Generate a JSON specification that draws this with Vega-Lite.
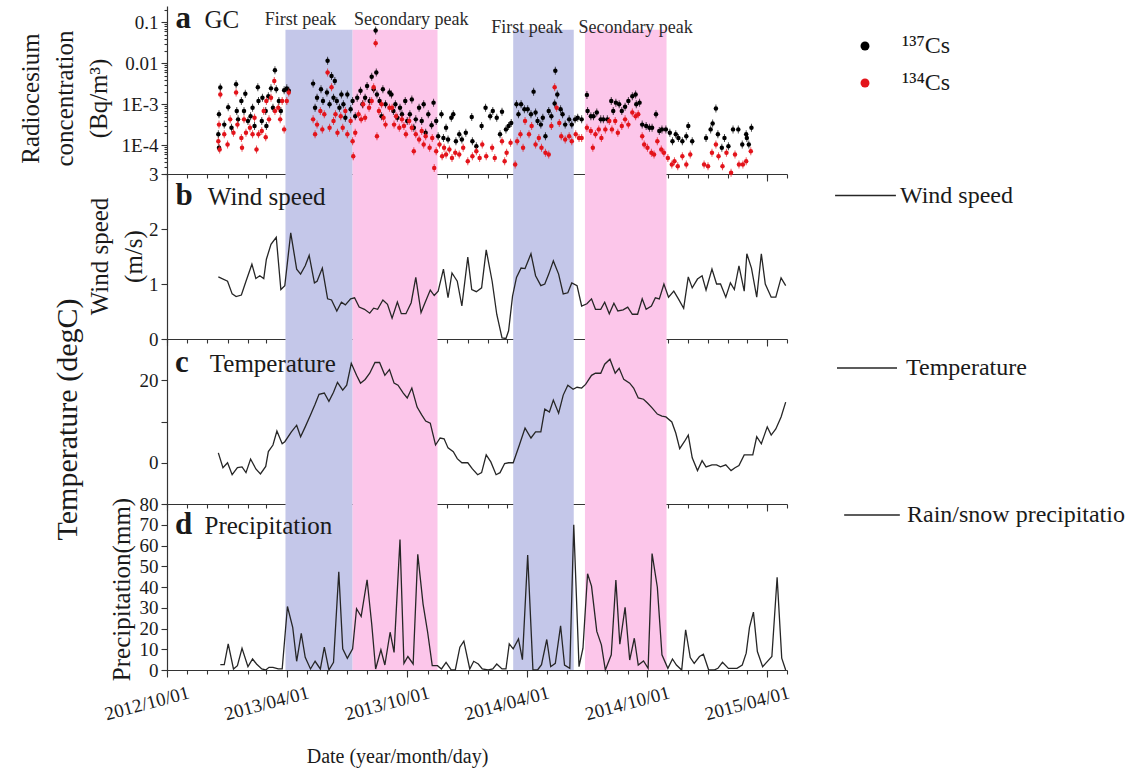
{
  "$schema": "https://vega.github.io/schema/vega-lite/v6.json",
  "background": "white",
  "padding": {"left": 18, "top": 3, "right": 5, "bottom": 5},
  "config": {
    "view": {"stroke": null},
    "font": "Liberation Serif",
    "axis": {"labelFont": "Liberation Serif", "titleFont": "Liberation Serif", "labelFontSize": 19, "titleFontSize": 25, "titleFontWeight": "normal", "labelColor": "#1a1a1a", "titleColor": "#1a1a1a", "domainColor": "#333333", "tickColor": "#333333", "domainWidth": 1.2, "tickWidth": 1.1, "grid": false, "labelPadding": 3, "zindex": 1},
    "legend": {"labelFont": "Liberation Serif", "labelFontSize": 24, "labelColor": "#1a1a1a", "labelLimit": 400, "padding": 0, "symbolOpacity": 1},
    "text": {"font": "Liberation Serif", "color": "#1a1a1a"}
  },
  "datasets": {
    "periods": [
      {"start": "2013-03-30", "end": "2013-07-10", "phase": "First peak"},
      {"start": "2013-07-10", "end": "2013-11-16", "phase": "Secondary peak"},
      {"start": "2014-03-11", "end": "2014-06-11", "phase": "First peak"},
      {"start": "2014-06-28", "end": "2014-10-30", "phase": "Secondary peak"}
    ],
    "cs137": [
      {"date":"2012-12-21","conc":0.00257},{"date":"2012-12-19","conc":0.000575},{"date":"2012-12-18","conc":0.000186},{"date":"2012-12-19","conc":0.000087},{"date":"2012-12-27","conc":0.00032},{"date":"2013-01-02","conc":0.00085},{"date":"2013-01-07","conc":0.00027},{"date":"2013-01-14","conc":0.0031},{"date":"2013-01-15","conc":0.00069},{"date":"2013-01-17","conc":0.00043},{"date":"2013-01-22","conc":0.0012},{"date":"2013-01-26","conc":0.00069},{"date":"2013-01-28","conc":0.00182},{"date":"2013-02-01","conc":0.00039},{"date":"2013-02-05","conc":0.00051},{"date":"2013-02-08","conc":0.00083},{"date":"2013-02-11","conc":0.000295},{"date":"2013-02-16","conc":0.0026},{"date":"2013-02-17","conc":0.0012},{"date":"2013-02-22","conc":0.00039},{"date":"2013-02-23","conc":0.00145},{"date":"2013-02-28","conc":0.00069},{"date":"2013-03-01","conc":0.000295},{"date":"2013-03-04","conc":0.00158},{"date":"2013-03-08","conc":0.00245},{"date":"2013-03-11","conc":0.00083},{"date":"2013-03-14","conc":0.0068},{"date":"2013-03-16","conc":0.00234},{"date":"2013-03-20","conc":0.0012},{"date":"2013-03-23","conc":0.00069},{"date":"2013-03-28","conc":0.0022},{"date":"2013-04-01","conc":0.00245},{"date":"2013-04-04","conc":0.00214},
      {"date":"2013-05-11","conc":0.0032},{"date":"2013-05-14","conc":0.00083},{"date":"2013-05-17","conc":0.00145},{"date":"2013-05-23","conc":0.00234},{"date":"2013-05-26","conc":0.0012},{"date":"2013-06-02","conc":0.0115},{"date":"2013-06-01","conc":0.00195},{"date":"2013-06-05","conc":0.001},{"date":"2013-06-08","conc":0.0049},{"date":"2013-06-11","conc":0.00145},{"date":"2013-06-13","conc":0.0037},{"date":"2013-06-16","conc":0.0012},{"date":"2013-06-20","conc":0.00083},{"date":"2013-06-23","conc":0.00174},{"date":"2013-06-26","conc":0.001},{"date":"2013-06-29","conc":0.00047},{"date":"2013-07-02","conc":0.00174},{"date":"2013-07-07","conc":0.00076},{"date":"2013-07-10","conc":0.0012},{"date":"2013-07-14","conc":0.00051},{"date":"2013-07-17","conc":0.00145},{"date":"2013-07-22","conc":0.00214},{"date":"2013-07-25","conc":0.001},{"date":"2013-07-29","conc":0.00145},{"date":"2013-08-01","conc":0.0028},{"date":"2013-08-05","conc":0.0012},{"date":"2013-08-08","conc":0.0047},{"date":"2013-08-11","conc":0.00234},{"date":"2013-08-14","conc":0.063},{"date":"2013-08-15","conc":0.006},{"date":"2013-08-16","conc":0.00174},{"date":"2013-08-20","conc":0.0012},{"date":"2013-08-23","conc":0.00051},{"date":"2013-08-25","conc":0.00234},{"date":"2013-08-29","conc":0.001},
      {"date":"2013-09-04","conc":0.00195},{"date":"2013-09-07","conc":0.00174},{"date":"2013-09-10","conc":0.00069},{"date":"2013-09-13","conc":0.001},{"date":"2013-09-16","conc":0.00047},{"date":"2013-09-20","conc":0.00083},{"date":"2013-09-23","conc":0.000575},{"date":"2013-09-28","conc":0.0012},{"date":"2013-10-01","conc":0.00039},{"date":"2013-10-05","conc":0.000575},{"date":"2013-10-08","conc":0.00132},{"date":"2013-10-11","conc":0.00027},{"date":"2013-10-14","conc":0.00043},{"date":"2013-10-19","conc":0.00083},{"date":"2013-10-23","conc":0.00039},{"date":"2013-10-26","conc":0.001},{"date":"2013-10-29","conc":0.000204},{"date":"2013-11-02","conc":0.000575},{"date":"2013-11-07","conc":0.00031},{"date":"2013-11-10","conc":0.0011},{"date":"2013-11-14","conc":0.00039},{"date":"2013-11-17","conc":0.000166},{"date":"2013-11-22","conc":0.000575},{"date":"2013-11-25","conc":0.000151},{"date":"2013-11-29","conc":0.00027},{"date":"2013-12-02","conc":0.000138},{"date":"2013-12-07","conc":0.00047},{"date":"2013-12-10","conc":0.000575},{"date":"2013-12-14","conc":0.000126},{"date":"2013-12-19","conc":0.000186},{"date":"2013-12-23","conc":0.000138},{"date":"2013-12-29","conc":0.000204},
      {"date":"2014-01-07","conc":0.00049},{"date":"2014-01-08","conc":0.000126},{"date":"2014-01-14","conc":0.000095},{"date":"2014-01-22","conc":0.000295},{"date":"2014-01-28","conc":0.00083},{"date":"2014-02-04","conc":0.00051},{"date":"2014-02-08","conc":0.00069},{"date":"2014-02-14","conc":0.00047},{"date":"2014-02-19","conc":0.000186},{"date":"2014-02-22","conc":0.00066},{"date":"2014-02-28","conc":0.000245},{"date":"2014-03-04","conc":0.000295},{"date":"2014-03-08","conc":0.00035},{"date":"2014-03-16","conc":0.001},{"date":"2014-03-19","conc":0.000575},{"date":"2014-03-23","conc":0.001},{"date":"2014-03-28","conc":0.00076},{"date":"2014-04-02","conc":0.00076},{"date":"2014-04-07","conc":0.000575},{"date":"2014-04-11","conc":0.00204},{"date":"2014-04-14","conc":0.00063},{"date":"2014-04-17","conc":0.00039},{"date":"2014-04-22","conc":0.00032},{"date":"2014-04-25","conc":0.00047},{"date":"2014-04-29","conc":0.000166},{"date":"2014-05-04","conc":0.00069},{"date":"2014-05-08","conc":0.00051},{"date":"2014-05-13","conc":0.00105},{"date":"2014-05-14","conc":0.0066},{"date":"2014-05-17","conc":0.00174},{"date":"2014-05-22","conc":0.00076},{"date":"2014-05-25","conc":0.000575},{"date":"2014-05-29","conc":0.00032},{"date":"2014-06-04","conc":0.00043},{"date":"2014-06-08","conc":0.00032},{"date":"2014-06-13","conc":0.00043},{"date":"2014-06-17","conc":0.00047},{"date":"2014-06-23","conc":0.00043},
      {"date":"2014-07-01","conc":0.0017},{"date":"2014-07-02","conc":0.00069},{"date":"2014-07-07","conc":0.00051},{"date":"2014-07-11","conc":0.00051},{"date":"2014-07-16","conc":0.00063},{"date":"2014-07-22","conc":0.00043},{"date":"2014-07-26","conc":0.00043},{"date":"2014-08-01","conc":0.00043},{"date":"2014-08-07","conc":0.0012},{"date":"2014-08-10","conc":0.00069},{"date":"2014-08-14","conc":0.0011},{"date":"2014-08-19","conc":0.001},{"date":"2014-08-23","conc":0.00069},{"date":"2014-08-28","conc":0.00087},{"date":"2014-09-02","conc":0.0012},{"date":"2014-09-08","conc":0.00158},{"date":"2014-09-13","conc":0.00174},{"date":"2014-09-14","conc":0.001},{"date":"2014-09-19","conc":0.0011},{"date":"2014-09-23","conc":0.00032},{"date":"2014-09-29","conc":0.000295},{"date":"2014-10-04","conc":0.00027},{"date":"2014-10-08","conc":0.00027},{"date":"2014-10-14","conc":0.000575},{"date":"2014-10-19","conc":0.000224},{"date":"2014-10-23","conc":0.000245},{"date":"2014-10-29","conc":0.000245},{"date":"2014-11-04","conc":0.000204},{"date":"2014-11-08","conc":0.000126},{"date":"2014-11-13","conc":0.000186},{"date":"2014-11-17","conc":0.000151},{"date":"2014-11-23","conc":0.000126},{"date":"2014-11-29","conc":0.000166},{"date":"2014-12-02","conc":0.000295},{"date":"2014-12-08","conc":0.000126},{"date":"2014-12-29","conc":0.000151},
      {"date":"2015-01-05","conc":0.000245},{"date":"2015-01-08","conc":0.00034},{"date":"2015-01-13","conc":0.00079},{"date":"2015-01-16","conc":0.000186},{"date":"2015-01-22","conc":0.000087},{"date":"2015-01-26","conc":0.000151},{"date":"2015-02-01","conc":0.000095},{"date":"2015-02-08","conc":0.000245},{"date":"2015-02-16","conc":0.000245},{"date":"2015-02-22","conc":0.000105},{"date":"2015-02-28","conc":0.000186},{"date":"2015-03-01","conc":0.000151},{"date":"2015-03-04","conc":0.000105},{"date":"2015-03-08","conc":0.00027}
    ],
    "cs134": [
      {"date":"2012-12-21","conc":0.00174},{"date":"2012-12-19","conc":0.00032},{"date":"2012-12-18","conc":0.000126},{"date":"2012-12-20","conc":0.000079},{"date":"2012-12-27","conc":0.000186},{"date":"2013-01-01","conc":0.000105},{"date":"2013-01-05","conc":0.00043},{"date":"2013-01-10","conc":0.000204},{"date":"2013-01-14","conc":0.00195},{"date":"2013-01-16","conc":0.00032},{"date":"2013-01-22","conc":0.000151},{"date":"2013-01-23","conc":0.000087},{"date":"2013-01-26","conc":0.00043},{"date":"2013-01-29","conc":0.000204},{"date":"2013-02-04","conc":0.00027},{"date":"2013-02-08","conc":0.000186},{"date":"2013-02-11","conc":0.00047},{"date":"2013-02-14","conc":0.000079},{"date":"2013-02-17","conc":0.000186},{"date":"2013-02-22","conc":0.000224},{"date":"2013-02-25","conc":0.00069},{"date":"2013-02-28","conc":0.000158},{"date":"2013-03-01","conc":0.0012},{"date":"2013-03-05","conc":0.00043},{"date":"2013-03-08","conc":0.00145},{"date":"2013-03-13","conc":0.0037},{"date":"2013-03-14","conc":0.00069},{"date":"2013-03-19","conc":0.00083},{"date":"2013-03-22","conc":0.00043},{"date":"2013-03-25","conc":0.0012},{"date":"2013-03-28","conc":0.000245},{"date":"2013-04-01","conc":0.0012},{"date":"2013-04-04","conc":0.00195},
      {"date":"2013-05-11","conc":0.00043},{"date":"2013-05-14","conc":0.000186},{"date":"2013-05-17","conc":0.00032},{"date":"2013-05-22","conc":0.00069},{"date":"2013-05-25","conc":0.000245},{"date":"2013-05-28","conc":0.000575},{"date":"2013-06-02","conc":0.006},{"date":"2013-06-05","conc":0.00027},{"date":"2013-06-08","conc":0.0026},{"date":"2013-06-11","conc":0.00039},{"date":"2013-06-14","conc":0.000575},{"date":"2013-06-17","conc":0.000204},{"date":"2013-06-22","conc":0.00051},{"date":"2013-06-25","conc":0.00027},{"date":"2013-06-29","conc":0.00069},{"date":"2013-07-02","conc":0.000186},{"date":"2013-07-07","conc":0.00039},{"date":"2013-07-10","conc":0.000126},{"date":"2013-07-11","conc":0.000054},{"date":"2013-07-14","conc":0.000204},{"date":"2013-07-19","conc":0.000575},{"date":"2013-07-23","conc":0.00043},{"date":"2013-07-26","conc":0.001},{"date":"2013-07-29","conc":0.00047},{"date":"2013-08-04","conc":0.00083},{"date":"2013-08-08","conc":0.0012},{"date":"2013-08-11","conc":0.0026},{"date":"2013-08-14","conc":0.031},{"date":"2013-08-16","conc":0.000166},{"date":"2013-08-19","conc":0.00069},{"date":"2013-08-23","conc":0.001},{"date":"2013-08-26","conc":0.00047},{"date":"2013-08-29","conc":0.00032},
      {"date":"2013-09-04","conc":0.00083},{"date":"2013-09-08","conc":0.00083},{"date":"2013-09-11","conc":0.00032},{"date":"2013-09-14","conc":0.00051},{"date":"2013-09-19","conc":0.00027},{"date":"2013-09-23","conc":0.00043},{"date":"2013-09-26","conc":0.000295},{"date":"2013-09-29","conc":0.000186},{"date":"2013-10-04","conc":0.00039},{"date":"2013-10-08","conc":0.00027},{"date":"2013-10-11","conc":0.000072},{"date":"2013-10-14","conc":0.000186},{"date":"2013-10-19","conc":0.000138},{"date":"2013-10-23","conc":0.000224},{"date":"2013-10-26","conc":0.000105},{"date":"2013-10-29","conc":0.000166},{"date":"2013-11-04","conc":0.000087},{"date":"2013-11-08","conc":0.000151},{"date":"2013-11-11","conc":0.000028},{"date":"2013-11-14","conc":0.000072},{"date":"2013-11-19","conc":0.000105},{"date":"2013-11-23","conc":0.000054},{"date":"2013-11-26","conc":0.000087},{"date":"2013-11-29","conc":0.00006},{"date":"2013-12-04","conc":0.000079},{"date":"2013-12-08","conc":0.000049},{"date":"2013-12-13","conc":0.000066},{"date":"2013-12-19","conc":0.00006},{"date":"2013-12-25","conc":0.000087},
      {"date":"2014-01-01","conc":0.000041},{"date":"2014-01-08","conc":0.000054},{"date":"2014-01-14","conc":0.000072},{"date":"2014-01-19","conc":0.000049},{"date":"2014-01-23","conc":0.000105},{"date":"2014-01-29","conc":0.000054},{"date":"2014-02-07","conc":0.000087},{"date":"2014-02-11","conc":0.000049},{"date":"2014-02-22","conc":0.000126},{"date":"2014-02-26","conc":0.000041},{"date":"2014-03-01","conc":0.000066},{"date":"2014-03-07","conc":0.000115},{"date":"2014-03-14","conc":0.000034},{"date":"2014-03-17","conc":0.000126},{"date":"2014-03-22","conc":0.000186},{"date":"2014-03-26","conc":0.000087},{"date":"2014-03-29","conc":0.00039},{"date":"2014-04-04","conc":0.000186},{"date":"2014-04-08","conc":0.000295},{"date":"2014-04-14","conc":0.000105},{"date":"2014-04-19","conc":0.000151},{"date":"2014-04-23","conc":0.000087},{"date":"2014-04-29","conc":0.000066},{"date":"2014-05-04","conc":0.00006},{"date":"2014-05-08","conc":0.000295},{"date":"2014-05-13","conc":0.0026},{"date":"2014-05-16","conc":0.00083},{"date":"2014-05-20","conc":0.00035},{"date":"2014-05-23","conc":0.000166},{"date":"2014-05-29","conc":0.000138},{"date":"2014-06-04","conc":0.000166},{"date":"2014-06-08","conc":0.000126},{"date":"2014-06-14","conc":0.000186},{"date":"2014-06-19","conc":0.000151},{"date":"2014-06-23","conc":0.000151},
      {"date":"2014-07-01","conc":0.00027},{"date":"2014-07-07","conc":0.000224},{"date":"2014-07-10","conc":0.000087},{"date":"2014-07-14","conc":0.000186},{"date":"2014-07-19","conc":0.000245},{"date":"2014-07-23","conc":0.000151},{"date":"2014-07-29","conc":0.000245},{"date":"2014-08-04","conc":0.00039},{"date":"2014-08-08","conc":0.000245},{"date":"2014-08-13","conc":0.00039},{"date":"2014-08-17","conc":0.000204},{"date":"2014-08-23","conc":0.000295},{"date":"2014-08-28","conc":0.00043},{"date":"2014-09-02","conc":0.00032},{"date":"2014-09-08","conc":0.00063},{"date":"2014-09-13","conc":0.00051},{"date":"2014-09-17","conc":0.000575},{"date":"2014-09-23","conc":0.000166},{"date":"2014-09-26","conc":0.000105},{"date":"2014-10-01","conc":0.000087},{"date":"2014-10-07","conc":0.000066},{"date":"2014-10-11","conc":0.00006},{"date":"2014-10-16","conc":0.000126},{"date":"2014-10-22","conc":0.000079},{"date":"2014-10-26","conc":0.000066},{"date":"2014-11-01","conc":0.000049},{"date":"2014-11-07","conc":0.000034},{"date":"2014-11-11","conc":0.000041},{"date":"2014-11-16","conc":0.000031},{"date":"2014-11-23","conc":0.000054},{"date":"2014-11-29","conc":0.000034},{"date":"2014-12-05","conc":0.00006},{"date":"2014-12-26","conc":0.000034},
      {"date":"2015-01-01","conc":0.000031},{"date":"2015-01-07","conc":0.000066},{"date":"2015-01-13","conc":0.000105},{"date":"2015-01-17","conc":0.000054},{"date":"2015-01-23","conc":0.000031},{"date":"2015-01-29","conc":0.000066},{"date":"2015-02-05","conc":0.0000214},{"date":"2015-02-11","conc":0.00006},{"date":"2015-02-17","conc":0.000034},{"date":"2015-02-23","conc":0.000034},{"date":"2015-02-28","conc":0.000041},{"date":"2015-03-07","conc":0.000072}
    ],
    "wind": [
      {"date":"2012-12-18","speed":1.13},{"date":"2013-01-01","speed":1.05},{"date":"2013-01-08","speed":0.82},{"date":"2013-01-14","speed":0.77},{"date":"2013-01-22","speed":0.8},{"date":"2013-01-29","speed":1.05},{"date":"2013-02-07","speed":1.36},{"date":"2013-02-13","speed":1.1},{"date":"2013-02-19","speed":1.15},{"date":"2013-02-25","speed":1.1},{"date":"2013-03-01","speed":1.45},{"date":"2013-03-08","speed":1.72},{"date":"2013-03-16","speed":1.85},{"date":"2013-03-23","speed":0.9},{"date":"2013-03-29","speed":0.97},{"date":"2013-04-07","speed":1.93},{"date":"2013-04-16","speed":1.27},{"date":"2013-04-22","speed":1.18},{"date":"2013-04-29","speed":1.33},{"date":"2013-05-05","speed":1.52},{"date":"2013-05-13","speed":1.02},{"date":"2013-05-17","speed":1.05},{"date":"2013-05-25","speed":1.29},{"date":"2013-06-02","speed":0.73},{"date":"2013-06-08","speed":0.71},{"date":"2013-06-16","speed":0.51},{"date":"2013-06-23","speed":0.67},{"date":"2013-06-29","speed":0.62},{"date":"2013-07-07","speed":0.73},{"date":"2013-07-13","speed":0.75},{"date":"2013-07-20","speed":0.58},{"date":"2013-07-28","speed":0.54},{"date":"2013-08-05","speed":0.47},{"date":"2013-08-11","speed":0.56},{"date":"2013-08-17","speed":0.54},{"date":"2013-08-25","speed":0.71},{"date":"2013-09-01","speed":0.63},{"date":"2013-09-08","speed":0.38},{"date":"2013-09-16","speed":0.67},{"date":"2013-09-22","speed":0.46},{"date":"2013-09-29","speed":0.46},{"date":"2013-10-07","speed":0.66},{"date":"2013-10-14","speed":1.12},{"date":"2013-10-22","speed":0.48},{"date":"2013-10-28","speed":0.66},{"date":"2013-11-05","speed":0.89},{"date":"2013-11-11","speed":0.79},{"date":"2013-11-17","speed":0.87},{"date":"2013-11-25","speed":1.27},{"date":"2013-12-02","speed":0.75},{"date":"2013-12-08","speed":1.2},{"date":"2013-12-16","speed":1.05},{"date":"2013-12-23","speed":0.6},
      {"date":"2014-01-01","speed":1.49},{"date":"2014-01-07","speed":0.9},{"date":"2014-01-14","speed":0.86},{"date":"2014-01-22","speed":0.93},{"date":"2014-01-29","speed":1.62},{"date":"2014-02-07","speed":1.05},{"date":"2014-02-14","speed":0.45},{"date":"2014-02-22","speed":0.02},{"date":"2014-02-28","speed":0.01},{"date":"2014-03-04","speed":0.15},{"date":"2014-03-10","speed":0.78},{"date":"2014-03-16","speed":1.12},{"date":"2014-03-23","speed":1.29},{"date":"2014-03-29","speed":1.28},{"date":"2014-04-07","speed":1.55},{"date":"2014-04-14","speed":1.15},{"date":"2014-04-22","speed":0.97},{"date":"2014-04-28","speed":1.0},{"date":"2014-05-04","speed":1.18},{"date":"2014-05-11","speed":1.42},{"date":"2014-05-19","speed":1.18},{"date":"2014-05-26","speed":0.82},{"date":"2014-06-02","speed":0.84},{"date":"2014-06-08","speed":1.02},{"date":"2014-06-16","speed":0.97},{"date":"2014-06-23","speed":0.6},{"date":"2014-07-01","speed":0.64},{"date":"2014-07-08","speed":0.73},{"date":"2014-07-14","speed":0.54},{"date":"2014-07-22","speed":0.54},{"date":"2014-07-28","speed":0.67},{"date":"2014-08-04","speed":0.46},{"date":"2014-08-11","speed":0.65},{"date":"2014-08-17","speed":0.51},{"date":"2014-08-25","speed":0.53},{"date":"2014-09-01","speed":0.58},{"date":"2014-09-08","speed":0.45},{"date":"2014-09-16","speed":0.45},{"date":"2014-09-23","speed":0.73},{"date":"2014-09-29","speed":0.54},{"date":"2014-10-07","speed":0.6},{"date":"2014-10-13","speed":0.75},{"date":"2014-10-19","speed":0.73},{"date":"2014-10-26","speed":1.0},{"date":"2014-11-02","speed":0.76},{"date":"2014-11-10","speed":0.87},{"date":"2014-11-17","speed":0.73},{"date":"2014-11-25","speed":0.56},{"date":"2014-12-02","speed":1.13},{"date":"2014-12-08","speed":0.93},{"date":"2014-12-16","speed":1.09},{"date":"2014-12-23","speed":1.15},{"date":"2014-12-29","speed":0.89},
      {"date":"2015-01-07","speed":1.27},{"date":"2015-01-14","speed":1.0},{"date":"2015-01-20","speed":1.0},{"date":"2015-01-28","speed":0.76},{"date":"2015-02-04","speed":1.02},{"date":"2015-02-10","speed":0.9},{"date":"2015-02-17","speed":1.33},{"date":"2015-02-25","speed":0.87},{"date":"2015-03-01","speed":1.55},{"date":"2015-03-08","speed":1.29},{"date":"2015-03-16","speed":0.76},{"date":"2015-03-23","speed":1.55},{"date":"2015-03-29","speed":1.0},{"date":"2015-04-07","speed":0.76},{"date":"2015-04-14","speed":0.76},{"date":"2015-04-22","speed":1.11},{"date":"2015-04-29","speed":0.97}
    ],
    "temperature": [
      {"date":"2012-12-18","degc":2.4},{"date":"2012-12-25","degc":-1.2},{"date":"2013-01-01","degc":0},{"date":"2013-01-08","degc":-2.9},{"date":"2013-01-16","degc":-1.2},{"date":"2013-01-23","degc":-1.0},{"date":"2013-01-29","degc":-2.4},{"date":"2013-02-05","degc":0.9},{"date":"2013-02-13","degc":-1.5},{"date":"2013-02-20","degc":-2.7},{"date":"2013-02-28","degc":-0.9},{"date":"2013-03-04","degc":2.7},{"date":"2013-03-11","degc":4.3},{"date":"2013-03-17","degc":7.7},{"date":"2013-03-25","degc":4.6},{"date":"2013-03-29","degc":5.1},{"date":"2013-04-08","degc":7.5},{"date":"2013-04-16","degc":9.1},{"date":"2013-04-22","degc":6.3},{"date":"2013-04-29","degc":8.7},{"date":"2013-05-07","degc":11.6},{"date":"2013-05-14","degc":14.2},{"date":"2013-05-20","degc":16.6},{"date":"2013-05-28","degc":16.9},{"date":"2013-06-04","degc":14.9},{"date":"2013-06-11","degc":17.1},{"date":"2013-06-17","degc":19.5},{"date":"2013-06-25","degc":17.6},{"date":"2013-07-01","degc":18.8},{"date":"2013-07-08","degc":24.1},{"date":"2013-07-16","degc":21.2},{"date":"2013-07-22","degc":19.3},{"date":"2013-07-29","degc":20.2},{"date":"2013-08-05","degc":21.7},{"date":"2013-08-13","degc":24.3},{"date":"2013-08-20","degc":24.3},{"date":"2013-08-28","degc":21.2},{"date":"2013-09-04","degc":22.6},{"date":"2013-09-11","degc":19.3},{"date":"2013-09-17","degc":18.8},{"date":"2013-09-25","degc":16.9},{"date":"2013-10-01","degc":15.7},{"date":"2013-10-08","degc":18.1},{"date":"2013-10-16","degc":13.5},{"date":"2013-10-23","degc":11.6},{"date":"2013-10-29","degc":10.1},{"date":"2013-11-05","degc":9.6},{"date":"2013-11-13","degc":4.3},{"date":"2013-11-20","degc":6.0},{"date":"2013-11-26","degc":5.8},{"date":"2013-12-02","degc":3.6},{"date":"2013-12-10","degc":2.7},{"date":"2013-12-16","degc":1.0},{"date":"2013-12-23","degc":0},
      {"date":"2014-01-01","degc":0},{"date":"2014-01-08","degc":-1.5},{"date":"2014-01-16","degc":-2.9},{"date":"2014-01-22","degc":-2.4},{"date":"2014-01-29","degc":1.9},{"date":"2014-02-05","degc":0.2},{"date":"2014-02-13","degc":-2.9},{"date":"2014-02-19","degc":-2.4},{"date":"2014-02-26","degc":-0.2},{"date":"2014-03-04","degc":0},{"date":"2014-03-11","degc":0},{"date":"2014-03-20","degc":4.1},{"date":"2014-03-29","degc":8.4},{"date":"2014-04-07","degc":6.0},{"date":"2014-04-14","degc":7.5},{"date":"2014-04-22","degc":7.5},{"date":"2014-04-28","degc":13.0},{"date":"2014-05-05","degc":12.3},{"date":"2014-05-11","degc":15.2},{"date":"2014-05-19","degc":12.0},{"date":"2014-05-26","degc":16.4},{"date":"2014-06-02","degc":18.8},{"date":"2014-06-10","degc":17.8},{"date":"2014-06-16","degc":18.3},{"date":"2014-06-23","degc":18.1},{"date":"2014-06-29","degc":19.0},{"date":"2014-07-08","degc":21.2},{"date":"2014-07-14","degc":21.7},{"date":"2014-07-22","degc":21.7},{"date":"2014-07-28","degc":23.9},{"date":"2014-08-05","degc":25.1},{"date":"2014-08-13","degc":21.7},{"date":"2014-08-19","degc":22.9},{"date":"2014-08-26","degc":20.2},{"date":"2014-09-04","degc":19.3},{"date":"2014-09-10","degc":18.1},{"date":"2014-09-17","degc":15.7},{"date":"2014-09-25","degc":15.4},{"date":"2014-10-01","degc":14.5},{"date":"2014-10-08","degc":13.3},{"date":"2014-10-16","degc":11.8},{"date":"2014-10-23","degc":11.3},{"date":"2014-10-29","degc":11.1},{"date":"2014-11-07","degc":9.9},{"date":"2014-11-13","degc":7.2},{"date":"2014-11-19","degc":3.4},{"date":"2014-11-26","degc":5.1},{"date":"2014-12-02","degc":6.7},{"date":"2014-12-08","degc":1.2},{"date":"2014-12-16","degc":-1.9},{"date":"2014-12-23","degc":0.5},{"date":"2014-12-29","degc":-1.0},
      {"date":"2015-01-07","degc":-0.5},{"date":"2015-01-14","degc":-0.5},{"date":"2015-01-20","degc":-1.0},{"date":"2015-01-28","degc":-0.5},{"date":"2015-02-05","degc":-1.9},{"date":"2015-02-11","degc":-1.2},{"date":"2015-02-17","degc":-0.7},{"date":"2015-02-25","degc":1.9},{"date":"2015-03-02","degc":1.9},{"date":"2015-03-10","degc":1.9},{"date":"2015-03-16","degc":6.3},{"date":"2015-03-23","degc":4.6},{"date":"2015-04-01","degc":8.7},{"date":"2015-04-07","degc":6.7},{"date":"2015-04-14","degc":8.2},{"date":"2015-04-22","degc":11.1},{"date":"2015-04-29","degc":14.7}
    ],
    "precipitation": [
      {"date":"2012-12-21","mm":2.6},{"date":"2012-12-27","mm":2.6},{"date":"2013-01-02","mm":12.6},{"date":"2013-01-10","mm":0.5},{"date":"2013-01-16","mm":2.1},{"date":"2013-01-23","mm":10.5},{"date":"2013-02-01","mm":1.6},{"date":"2013-02-08","mm":5.3},{"date":"2013-02-14","mm":2.9},{"date":"2013-02-22","mm":0.5},{"date":"2013-02-28","mm":0},{"date":"2013-03-05","mm":1.3},{"date":"2013-03-11","mm":1.3},{"date":"2013-03-19","mm":0.5},{"date":"2013-03-25","mm":0.5},{"date":"2013-04-02","mm":30.6},{"date":"2013-04-10","mm":20.6},{"date":"2013-04-16","mm":4.2},{"date":"2013-04-23","mm":17.7},{"date":"2013-04-29","mm":6.1},{"date":"2013-05-07","mm":0.5},{"date":"2013-05-14","mm":4.2},{"date":"2013-05-22","mm":0.5},{"date":"2013-05-28","mm":11.0},{"date":"2013-06-04","mm":0},{"date":"2013-06-11","mm":3.7},{"date":"2013-06-19","mm":47.3},{"date":"2013-06-25","mm":10.2},{"date":"2013-07-02","mm":5.6},{"date":"2013-07-10","mm":10.2},{"date":"2013-07-16","mm":29.5},{"date":"2013-07-23","mm":25.8},{"date":"2013-08-01","mm":43.5},{"date":"2013-08-08","mm":22.3},{"date":"2013-08-14","mm":0.5},{"date":"2013-08-22","mm":9.7},{"date":"2013-08-28","mm":2.4},{"date":"2013-09-05","mm":18.2},{"date":"2013-09-11","mm":8.5},{"date":"2013-09-20","mm":62.9},{"date":"2013-09-26","mm":3.2},{"date":"2013-10-02","mm":6.5},{"date":"2013-10-10","mm":2.9},{"date":"2013-10-17","mm":55.8},{"date":"2013-10-25","mm":31.9},{"date":"2013-11-01","mm":18.2},{"date":"2013-11-08","mm":2.1},{"date":"2013-11-16","mm":2.1},{"date":"2013-11-22","mm":0.5},{"date":"2013-11-29","mm":3.7},{"date":"2013-12-07","mm":0},{"date":"2013-12-13","mm":0},{"date":"2013-12-20","mm":11.0},{"date":"2013-12-26","mm":13.9},
      {"date":"2014-01-04","mm":0.5},{"date":"2014-01-10","mm":4.2},{"date":"2014-01-17","mm":2.9},{"date":"2014-01-23","mm":0.5},{"date":"2014-02-01","mm":0},{"date":"2014-02-08","mm":0.5},{"date":"2014-02-14","mm":2.9},{"date":"2014-02-22","mm":0.5},{"date":"2014-02-28","mm":0.5},{"date":"2014-03-05","mm":12.6},{"date":"2014-03-11","mm":10.2},{"date":"2014-03-19","mm":15.0},{"date":"2014-03-25","mm":5.0},{"date":"2014-04-02","mm":55.4},{"date":"2014-04-10","mm":0},{"date":"2014-04-17","mm":0},{"date":"2014-04-23","mm":2.6},{"date":"2014-05-01","mm":14.7},{"date":"2014-05-07","mm":1.6},{"date":"2014-05-14","mm":3.2},{"date":"2014-05-22","mm":21.3},{"date":"2014-05-28","mm":2.4},{"date":"2014-06-05","mm":0.8},{"date":"2014-06-11","mm":70.0},{"date":"2014-06-19","mm":1.6},{"date":"2014-06-25","mm":10.5},{"date":"2014-07-02","mm":46.4},{"date":"2014-07-08","mm":40.4},{"date":"2014-07-16","mm":18.6},{"date":"2014-07-23","mm":12.1},{"date":"2014-07-29","mm":0},{"date":"2014-08-07","mm":7.3},{"date":"2014-08-14","mm":43.3},{"date":"2014-08-20","mm":12.4},{"date":"2014-08-28","mm":30.2},{"date":"2014-09-04","mm":4.8},{"date":"2014-09-11","mm":15.3},{"date":"2014-09-17","mm":2.4},{"date":"2014-09-25","mm":4.4},{"date":"2014-10-02","mm":0.8},{"date":"2014-10-08","mm":56.1},{"date":"2014-10-16","mm":39.9},{"date":"2014-10-23","mm":7.3},{"date":"2014-11-01","mm":0.8},{"date":"2014-11-08","mm":5.3},{"date":"2014-11-14","mm":2.4},{"date":"2014-11-22","mm":0},{"date":"2014-11-28","mm":19.4},{"date":"2014-12-05","mm":6.0},{"date":"2014-12-11","mm":3.2},{"date":"2014-12-19","mm":6.5},{"date":"2014-12-25","mm":7.6},
      {"date":"2015-01-02","mm":0},{"date":"2015-01-10","mm":0},{"date":"2015-01-16","mm":0.8},{"date":"2015-01-23","mm":3.7},{"date":"2015-02-01","mm":0.8},{"date":"2015-02-08","mm":0.8},{"date":"2015-02-14","mm":0.8},{"date":"2015-02-22","mm":2.4},{"date":"2015-02-28","mm":8.1},{"date":"2015-03-05","mm":20.5},{"date":"2015-03-11","mm":27.9},{"date":"2015-03-17","mm":8.9},{"date":"2015-03-25","mm":1.6},{"date":"2015-04-02","mm":4.4},{"date":"2015-04-08","mm":6.5},{"date":"2015-04-16","mm":44.7},{"date":"2015-04-23","mm":5.7},{"date":"2015-04-29","mm":0}
    ]
  },
  "spacing": 0,
  "bounds": "flush",
  "resolve": {"scale": {"color": "independent", "fill": "independent"}, "legend": {"color": "independent"}},
  "vconcat": [
    {
      "width": 620,
      "height": 168,
      "resolve": {"axis": {"x": "independent", "y": "independent"}},
      "layer": [
        {
          "data": {"name": "periods"},
          "mark": {"type": "rect"},
          "encoding": {
            "x": {"field": "start", "type": "temporal", "scale": {"type": "utc", "nice": false, "domain": [{"year": 2012, "month": 10, "date": 1, "utc": true}, {"year": 2015, "month": 5, "date": 1, "utc": true}]},
                  "axis": {"orient": "bottom", "values": [{"year": 2012, "month": 10, "date": 1, "utc": true}, {"year": 2013, "month": 4, "date": 1, "utc": true}, {"year": 2013, "month": 10, "date": 1, "utc": true}, {"year": 2014, "month": 4, "date": 1, "utc": true}, {"year": 2014, "month": 10, "date": 1, "utc": true}, {"year": 2015, "month": 4, "date": 1, "utc": true}], "labels": false, "title": null, "tickSize": 7}},
            "x2": {"field": "end"},
            "y": {"datum": 0.066, "type": "quantitative", "scale": {"type": "log", "nice": false, "domain": [0.00002, 0.25]},
                  "axis": {"orient": "left", "values": [0.00002, 0.00003, 0.00004, 0.00005, 0.00006, 0.00007, 0.00008, 0.00009, 0.0002, 0.0003, 0.0004, 0.0005, 0.0006, 0.0007, 0.0008, 0.0009, 0.002, 0.003, 0.004, 0.005, 0.006, 0.007, 0.008, 0.009, 0.02, 0.03, 0.04, 0.05, 0.06, 0.07, 0.08, 0.09, 0.2], "labels": false, "title": null, "tickSize": 3, "domain": false}},
            "y2": {"datum": 0.00002},
            "fill": {"field": "phase", "type": "nominal", "scale": {"domain": ["First peak", "Secondary peak"], "range": ["#c4c7e9", "#fcc6ea"]}, "legend": null}
          }
        },
        {
          "data": {"name": "cs137"},
          "mark": {"type": "tick", "orient": "vertical", "size": 8, "thickness": 1},
          "encoding": {
            "x": {"field": "date", "type": "temporal", "axis": null},
            "y": {"field": "conc", "type": "quantitative", "axis": null},
            "color": {"datum": "137Cs", "type": "nominal", "scale": {"domain": ["137Cs", "134Cs"], "range": ["#000000", "#e3141b"]},
                      "legend": {"title": null, "orient": "none", "legendX": 686, "legendY": 28, "symbolType": "circle", "symbolSize": 80, "symbolOpacity": 1, "labelFontSize": 24, "labelOffset": 25, "rowPadding": 13, "labelExpr": "datum.label == '137Cs' ? '¹³⁷Cs' : '¹³⁴Cs'"}}
          }
        },
        {
          "data": {"name": "cs137"},
          "mark": {"type": "circle", "size": 20, "opacity": 1},
          "encoding": {
            "x": {"field": "date", "type": "temporal", "axis": {"orient": "bottom", "tickCount": {"interval": "month", "step": 1}, "labels": false, "title": null, "tickSize": 4, "domain": false}},
            "y": {"field": "conc", "type": "quantitative",
                  "axis": {"orient": "left", "values": [0.0001, 0.001, 0.01, 0.1], "labelExpr": "datum.value > 0.05 ? '0.1' : datum.value > 0.005 ? '0.01' : datum.value > 0.0005 ? '1E-3' : '1E-4'", "tickSize": 6, "title": ["Radiocesium", "concentration", "(Bq/m³)"], "titleLineHeight": 34, "titleAngle": -90, "titleX": -137, "titleY": 92, "titleAlign": "center", "titleBaseline": "middle"}},
            "color": {"datum": "137Cs", "type": "nominal"}
          }
        },
        {
          "data": {"name": "cs134"},
          "mark": {"type": "tick", "orient": "vertical", "size": 8, "thickness": 1},
          "encoding": {
            "x": {"field": "date", "type": "temporal", "axis": null},
            "y": {"field": "conc", "type": "quantitative", "axis": null},
            "color": {"datum": "134Cs", "type": "nominal"}
          }
        },
        {
          "data": {"name": "cs134"},
          "mark": {"type": "circle", "size": 20, "opacity": 1},
          "encoding": {
            "x": {"field": "date", "type": "temporal", "axis": null},
            "y": {"field": "conc", "type": "quantitative", "axis": null},
            "color": {"datum": "134Cs", "type": "nominal"}
          }
        },
        {
          "data": {"values": [{}]},
          "mark": {"type": "text", "text": "a", "fontSize": 31, "fontWeight": "bold", "align": "left", "baseline": "alphabetic"},
          "encoding": {
            "x": {"datum": {"year": 2012, "month": 10, "date": 14, "utc": true}, "type": "temporal", "axis": null},
            "y": {"datum": 0.0714, "type": "quantitative", "axis": null}
          }
        },
        {
          "data": {"values": [{}]},
          "mark": {"type": "text", "text": "GC", "fontSize": 25, "align": "left", "baseline": "alphabetic"},
          "encoding": {
            "x": {"datum": {"year": 2012, "month": 11, "date": 27, "utc": true}, "type": "temporal", "axis": null},
            "y": {"datum": 0.0714, "type": "quantitative", "axis": null}
          }
        },
        {
          "data": {"values": [{}]},
          "mark": {"type": "text", "text": "First peak", "fontSize": 18, "align": "center", "baseline": "alphabetic", "color": "#2a2a2a"},
          "encoding": {
            "x": {"datum": {"year": 2013, "month": 4, "date": 22, "utc": true}, "type": "temporal", "axis": null},
            "y": {"datum": 0.0845, "type": "quantitative", "axis": null}
          }
        },
        {
          "data": {"values": [{}]},
          "mark": {"type": "text", "text": "Secondary peak", "fontSize": 18, "align": "center", "baseline": "alphabetic", "color": "#2a2a2a"},
          "encoding": {
            "x": {"datum": {"year": 2013, "month": 10, "date": 7, "utc": true}, "type": "temporal", "axis": null},
            "y": {"datum": 0.0845, "type": "quantitative", "axis": null}
          }
        },
        {
          "data": {"values": [{}]},
          "mark": {"type": "text", "text": "First peak", "fontSize": 18, "align": "center", "baseline": "alphabetic", "color": "#2a2a2a"},
          "encoding": {
            "x": {"datum": {"year": 2014, "month": 4, "date": 1, "utc": true}, "type": "temporal", "axis": null},
            "y": {"datum": 0.056, "type": "quantitative", "axis": null}
          }
        },
        {
          "data": {"values": [{}]},
          "mark": {"type": "text", "text": "Secondary peak", "fontSize": 18, "align": "center", "baseline": "alphabetic", "color": "#2a2a2a"},
          "encoding": {
            "x": {"datum": {"year": 2014, "month": 9, "date": 13, "utc": true}, "type": "temporal", "axis": null},
            "y": {"datum": 0.056, "type": "quantitative", "axis": null}
          }
        }
      ]
    },
    {
      "width": 620,
      "height": 165,
      "resolve": {"axis": {"x": "independent", "y": "independent"}},
      "layer": [
        {
          "data": {"name": "periods"},
          "mark": {"type": "rect"},
          "encoding": {
            "x": {"field": "start", "type": "temporal", "scale": {"type": "utc", "nice": false, "domain": [{"year": 2012, "month": 10, "date": 1, "utc": true}, {"year": 2015, "month": 5, "date": 1, "utc": true}]},
                  "axis": {"orient": "bottom", "values": [{"year": 2012, "month": 10, "date": 1, "utc": true}, {"year": 2013, "month": 4, "date": 1, "utc": true}, {"year": 2013, "month": 10, "date": 1, "utc": true}, {"year": 2014, "month": 4, "date": 1, "utc": true}, {"year": 2014, "month": 10, "date": 1, "utc": true}, {"year": 2015, "month": 4, "date": 1, "utc": true}], "labels": false, "title": null, "tickSize": 7}},
            "x2": {"field": "end"},
            "fill": {"field": "phase", "type": "nominal", "scale": {"domain": ["First peak", "Secondary peak"], "range": ["#c4c7e9", "#fcc6ea"]}, "legend": null}
          }
        },
        {
          "data": {"name": "wind"},
          "mark": {"type": "line", "strokeWidth": 1.3},
          "encoding": {
            "x": {"field": "date", "type": "temporal", "axis": {"orient": "bottom", "tickCount": {"interval": "month", "step": 1}, "labels": false, "title": null, "tickSize": 4, "domain": false}},
            "y": {"field": "speed", "type": "quantitative", "scale": {"domain": [0, 3], "nice": false},
                  "axis": {"orient": "left", "values": [0, 1, 2, 3], "tickSize": 6, "title": ["Wind speed", "(m/s)"], "titleLineHeight": 34, "titleAngle": -90, "titleX": -68, "titleY": 82, "titleAlign": "center", "titleBaseline": "middle"}},
            "color": {"datum": "Wind speed", "type": "nominal", "scale": {"range": ["#262626"]},
                      "legend": {"title": null, "orient": "none", "legendX": 667, "legendY": -10, "symbolType": "stroke", "symbolSize": 3700, "symbolStrokeWidth": 1.4, "labelFontSize": 24, "labelOffset": 3}}
          }
        },
        {
          "data": {"values": [{}]},
          "mark": {"type": "text", "text": "b", "fontSize": 31, "fontWeight": "bold", "align": "left", "baseline": "alphabetic"},
          "encoding": {
            "x": {"datum": {"year": 2012, "month": 10, "date": 14, "utc": true}, "type": "temporal", "axis": null},
            "y": {"datum": 2.44, "type": "quantitative", "axis": null}
          }
        },
        {
          "data": {"values": [{}]},
          "mark": {"type": "text", "text": "Wind speed", "fontSize": 25, "align": "left", "baseline": "alphabetic"},
          "encoding": {
            "x": {"datum": {"year": 2012, "month": 12, "date": 2, "utc": true}, "type": "temporal", "axis": null},
            "y": {"datum": 2.44, "type": "quantitative", "axis": null}
          }
        }
      ]
    },
    {
      "width": 620,
      "height": 165,
      "resolve": {"axis": {"x": "independent", "y": "independent"}},
      "layer": [
        {
          "data": {"name": "periods"},
          "mark": {"type": "rect"},
          "encoding": {
            "x": {"field": "start", "type": "temporal", "scale": {"type": "utc", "nice": false, "domain": [{"year": 2012, "month": 10, "date": 1, "utc": true}, {"year": 2015, "month": 5, "date": 1, "utc": true}]},
                  "axis": {"orient": "bottom", "values": [{"year": 2012, "month": 10, "date": 1, "utc": true}, {"year": 2013, "month": 4, "date": 1, "utc": true}, {"year": 2013, "month": 10, "date": 1, "utc": true}, {"year": 2014, "month": 4, "date": 1, "utc": true}, {"year": 2014, "month": 10, "date": 1, "utc": true}, {"year": 2015, "month": 4, "date": 1, "utc": true}], "labels": false, "title": null, "tickSize": 7}},
            "x2": {"field": "end"},
            "fill": {"field": "phase", "type": "nominal", "scale": {"domain": ["First peak", "Secondary peak"], "range": ["#c4c7e9", "#fcc6ea"]}, "legend": null}
          }
        },
        {
          "data": {"name": "temperature"},
          "mark": {"type": "line", "strokeWidth": 1.3},
          "encoding": {
            "x": {"field": "date", "type": "temporal", "axis": {"orient": "bottom", "tickCount": {"interval": "month", "step": 1}, "labels": false, "title": null, "tickSize": 4, "domain": false}},
            "y": {"field": "degc", "type": "quantitative", "scale": {"domain": [-10, 30], "nice": false},
                  "axis": {"orient": "left", "values": [0, 10, 20], "labelExpr": "datum.value == 10 ? '' : datum.label", "tickSize": 6, "title": "Temperature (degC)", "titleFontSize": 30, "titleAngle": -90, "titleX": -100, "titleY": 80, "titleAlign": "center", "titleBaseline": "middle"}},
            "color": {"datum": "Temperature", "type": "nominal", "scale": {"range": ["#262626"]},
                      "legend": {"title": null, "orient": "none", "legendX": 669, "legendY": -2, "symbolType": "stroke", "symbolSize": 3600, "symbolStrokeWidth": 1.4, "labelFontSize": 24, "labelOffset": 8}}
          }
        },
        {
          "data": {"values": [{}]},
          "mark": {"type": "text", "text": "c", "fontSize": 31, "fontWeight": "bold", "align": "left", "baseline": "alphabetic"},
          "encoding": {
            "x": {"datum": {"year": 2012, "month": 10, "date": 13, "utc": true}, "type": "temporal", "axis": null},
            "y": {"datum": 22.0, "type": "quantitative", "axis": null}
          }
        },
        {
          "data": {"values": [{}]},
          "mark": {"type": "text", "text": "Temperature", "fontSize": 25, "align": "left", "baseline": "alphabetic"},
          "encoding": {
            "x": {"datum": {"year": 2012, "month": 12, "date": 5, "utc": true}, "type": "temporal", "axis": null},
            "y": {"datum": 22.0, "type": "quantitative", "axis": null}
          }
        }
      ]
    },
    {
      "width": 620,
      "height": 166,
      "resolve": {"axis": {"x": "independent", "y": "independent"}},
      "layer": [
        {
          "data": {"name": "periods"},
          "mark": {"type": "rect"},
          "encoding": {
            "x": {"field": "start", "type": "temporal", "scale": {"type": "utc", "nice": false, "domain": [{"year": 2012, "month": 10, "date": 1, "utc": true}, {"year": 2015, "month": 5, "date": 1, "utc": true}]},
                  "axis": {"orient": "bottom", "values": [{"year": 2012, "month": 10, "date": 1, "utc": true}, {"year": 2013, "month": 4, "date": 1, "utc": true}, {"year": 2013, "month": 10, "date": 1, "utc": true}, {"year": 2014, "month": 4, "date": 1, "utc": true}, {"year": 2014, "month": 10, "date": 1, "utc": true}, {"year": 2015, "month": 4, "date": 1, "utc": true}],
                           "format": "%Y/%m/%d", "labelAngle": -15, "labelAlign": "right", "labelBaseline": "top", "labelOffset": 19, "labelPadding": 6, "tickSize": 7,
                           "title": "Date (year/month/day)", "titleFontSize": 20, "titleX": 230, "titleY": 76, "titleAlign": "center", "titleBaseline": "top"}},
            "x2": {"field": "end"},
            "fill": {"field": "phase", "type": "nominal", "scale": {"domain": ["First peak", "Secondary peak"], "range": ["#c4c7e9", "#fcc6ea"]}, "legend": null}
          }
        },
        {
          "data": {"name": "precipitation"},
          "mark": {"type": "line", "strokeWidth": 1.3},
          "encoding": {
            "x": {"field": "date", "type": "temporal", "axis": {"orient": "bottom", "tickCount": {"interval": "month", "step": 1}, "labels": false, "title": null, "tickSize": 4, "domain": false}},
            "y": {"field": "mm", "type": "quantitative", "scale": {"domain": [0, 80], "nice": false},
                  "axis": {"orient": "left", "values": [0, 10, 20, 30, 40, 50, 60, 70, 80], "tickSize": 6, "title": "Precipitation(mm)", "titleAngle": -90, "titleX": -46, "titleY": 85, "titleAlign": "center", "titleBaseline": "middle"}},
            "color": {"datum": "Rain/snow precipitatio", "type": "nominal", "scale": {"range": ["#262626"]},
                      "legend": {"title": null, "orient": "none", "legendX": 676, "legendY": -18, "symbolType": "stroke", "symbolSize": 3100, "symbolStrokeWidth": 1.4, "labelFontSize": 24, "labelOffset": 6}}
          }
        },
        {
          "data": {"values": [{}]},
          "mark": {"type": "text", "text": "d", "fontSize": 31, "fontWeight": "bold", "align": "left", "baseline": "alphabetic"},
          "encoding": {
            "x": {"datum": {"year": 2012, "month": 10, "date": 13, "utc": true}, "type": "temporal", "axis": null},
            "y": {"datum": 65.5, "type": "quantitative", "axis": null}
          }
        },
        {
          "data": {"values": [{}]},
          "mark": {"type": "text", "text": "Precipitation", "fontSize": 25, "align": "left", "baseline": "alphabetic"},
          "encoding": {
            "x": {"datum": {"year": 2012, "month": 11, "date": 27, "utc": true}, "type": "temporal", "axis": null},
            "y": {"datum": 65.5, "type": "quantitative", "axis": null}
          }
        }
      ]
    }
  ]
}
